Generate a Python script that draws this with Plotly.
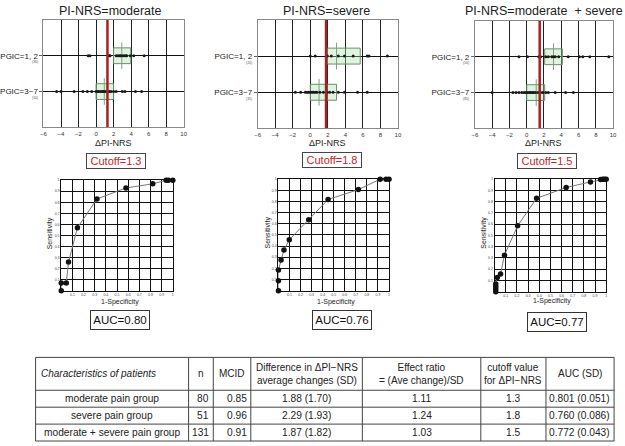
import plotly.graph_objects as go

W, H = 625, 446
FONT = "Arial, Liberation Sans, sans-serif"

# ---------------- data ----------------
panel_titles = ["PI-NRS=moderate", "PI-NRS=severe", "PI-NRS=moderate  + severe"]
group_labels = ["PGIC=1, 2", "PGIC=3~7"]
group_n = [["(30)", "(50)"], ["(20)", "(31)"], ["(50)", "(81)"]]
cutoffs = [1.3, 1.8, 1.5]
box_q1 = [[2.0, 0.0], [1.95, 0.0], [2.08, 0.0]]
box_q3 = [[3.96, 2.0], [5.7, 3.0], [4.13, 2.08]]
box_mean = [[2.94, 0.94], [3.0, 1.0], [3.1, 1.1]]
dots_p1_g12 = [-0.9, -0.7, 1.5, 1.6, 2.3, 2.5, 2.7, 2.8, 3.0, 3.2, 3.4, 3.5, 3.9, 4.3, 5.5]
dots_p1_g37 = [-4.5, -4.0, -2.5, -1.5, -1.0, -0.5, 0.0, 0.2, 0.3, 0.5, 0.7, 0.8, 1.0, 1.2,
               1.5, 1.7, 2.0, 2.3, 3.0, 3.3, 4.5, 5.2]
dots_p2_g12 = [0.0, 0.56, 1.95, 2.4, 3.2, 3.9, 4.9, 6.5, 6.7, 8.8]
dots_p2_g37 = [-1.7, -1.1, -0.56, -0.37, -0.2, 0.0, 0.2, 0.37, 0.56, 0.75, 1.1, 1.5, 1.9,
               2.2, 2.6, 3.2, 3.9, 5.4, 6.5]
dots_p3_g12 = [-0.9, 0.08, 1.4, 1.6, 2.2, 2.5, 2.9, 3.1, 3.3, 3.7, 4.8, 6.1, 6.5, 7.3, 9.5]
dots_p3_g37 = [-4.0, -1.6, -1.25, -0.9, -0.57, -0.3, -0.1, 0.1, 0.3, 0.45, 0.65, 0.8, 1.0,
               1.3, 1.6, 1.86, 2.2, 2.5, 3.3, 4.5, 5.4]
dots = [[dots_p1_g12, dots_p1_g37], [dots_p2_g12, dots_p2_g37], [dots_p3_g12, dots_p3_g37]]
x_ticks = [-6, -4, -2, 0, 2, 4, 6, 8, 10]

roc1_fpr = [0, 0, 0.045, 0.065, 0.145, 0.32, 0.58, 0.82, 0.94, 0.96, 1.0]
roc1_tpr = [0, 0.07, 0.07, 0.26, 0.57, 0.83, 0.93, 0.967, 1.0, 1.0, 1.0]
roc2_fpr = [0, 0, 0, 0.024, 0.05, 0.098, 0.274, 0.449, 0.723, 0.92, 0.973, 1.0]
roc2_tpr = [0, 0.09, 0.185, 0.275, 0.364, 0.457, 0.636, 0.818, 0.907, 1.0, 1.0, 1.0]
roc3_fpr = [0.01, 0.01, 0.01, 0.01, 0.024, 0.053, 0.088, 0.206, 0.376, 0.641, 0.859, 0.95, 0.97, 0.985, 1.0]
roc3_tpr = [0, 0.024, 0.047, 0.068, 0.127, 0.157, 0.325, 0.586, 0.83, 0.926, 0.976, 0.997, 1.0, 1.0, 1.0]
roc_fpr = [roc1_fpr, roc2_fpr, roc3_fpr]
roc_tpr = [roc1_tpr, roc2_tpr, roc3_tpr]
auc_labels = ["AUC=0.80", "AUC=0.76", "AUC=0.77"]
roc_ticks = [0.1, 0.2, 0.3, 0.4, 0.5, 0.6, 0.7, 0.8, 0.9, 1]
roc_ticktext = ["0.1", "0.2", "0.3", "0.4", "0.5", "0.6", "0.7", "0.8", "0.9", "1"]

table_header = ["<i>Characteristics of patients</i>", "n", "MCID",
                "Difference in ΔPI−NRS<br>average changes (SD)",
                "Effect ratio<br>= (Ave change)/SD",
                "cutoff value<br>for ΔPI−NRS", "AUC (SD)"]
tbl_group = ["moderate pain group", "severe pain group", "moderate + severe pain group"]
tbl_n = ["80", "51", "131"]
tbl_mcid = ["0.85", "0.96", "0.91"]
tbl_diff = ["1.88 (1.70)", "2.29 (1.93)", "1.87 (1.82)"]
tbl_effect = ["1.11", "1.24", "1.03"]
tbl_cutoff = ["1.3", "1.8", "1.5"]
tbl_auc = ["0.801 (0.051)", "0.760 (0.086)", "0.772 (0.043)"]

# ---------------- layout geometry (pixels) ----------------
top_dom = [(40, 182, 18, 126), (257, 399, 18, 127), (477, 617, 19, 127)]
roc_dom = [(58, 171, 179, 290), (278, 390, 178, 290), (497, 610, 178, 291)]
title_pos = [(108, 9), (327, 9), (547, 9)]
cut_pos = [(113, 159.5), (332, 158.5), (550, 159.5)]
auc_pos = [(117, 319), (342, 319), (560, 321)]
sens_pos = [(47, 232), (267, 232), (486, 232)]
spec_pos = [(117, 301), (336, 301), (555, 300.5)]
col_edges = [32, 187, 212, 250, 363, 483, 549, 618]
row_edges = [357, 390, 407, 424, 441]
head_align = ["left", "center", "center", "center", "center", "center", "center"]
cell_align = ["center", "right", "right", "center", "center", "center", "right"]


def px(x):
    return x / W


def py(y):
    return 1 - y / H


def note(text, x, y, size, color="#222", xanchor="center", **kw):
    return dict(text=text, x=px(x), y=py(y), xref="paper", yref="paper", showarrow=False,
                xanchor=xanchor, yanchor="middle", font=dict(size=size, color=color, family=FONT), **kw)


fig = go.Figure()
annotations = []
shapes = []
layout_axes = {}

for i in range(3):
    ax = i + 1
    xa = "x" if ax == 1 else f"x{ax}"
    ya = "y" if ax == 1 else f"y{ax}"
    l, r, t, b = top_dom[i]
    fig.add_trace(go.Bar(
        orientation="h", y=[1, 2],
        x=[box_q3[i][k] - box_q1[i][k] for k in range(2)],
        base=box_q1[i], width=0.44,
        marker=dict(color="rgba(170,225,170,0.38)", line=dict(color="#6a8f6a", width=1)),
        xaxis=xa, yaxis=ya, showlegend=False, hoverinfo="skip"))
    mx, my = [], []
    for k in range(2):
        mx += [box_mean[i][k], box_mean[i][k], None]
        my += [k + 1 - 0.37, k + 1 + 0.37, None]
    fig.add_trace(go.Scatter(x=mx, y=my, mode="lines",
                             line=dict(color="#7f9f7f", width=1),
                             xaxis=xa, yaxis=ya, showlegend=False, hoverinfo="skip"))
    for k in range(2):
        fig.add_trace(go.Scatter(x=dots[i][k], y=[k + 1] * len(dots[i][k]), mode="markers",
                                 marker=dict(color="#1a1a1a", size=3),
                                 xaxis=xa, yaxis=ya, showlegend=False, hoverinfo="skip"))
    fig.add_trace(go.Scatter(x=[cutoffs[i], cutoffs[i]], y=[0, 3], mode="lines",
                             line=dict(color="#a82024", width=2.5),
                             xaxis=xa, yaxis=ya, showlegend=False, hoverinfo="skip"))
    layout_axes["xaxis" if ax == 1 else f"xaxis{ax}"] = dict(
        domain=[px(l), px(r)], anchor=ya, range=[-6, 10], tickvals=x_ticks,
        tickfont=dict(size=6, color="#333"), showgrid=True, gridcolor="#222", gridwidth=1,
        zeroline=False, showline=True, linecolor="#888", mirror=True, ticks="")
    layout_axes["yaxis" if ax == 1 else f"yaxis{ax}"] = dict(
        domain=[py(b), py(t)], anchor=xa, range=[3, 0], tickvals=[1, 2], ticktext=group_labels,
        tickfont=dict(size=8, color="#222"), showgrid=True, gridcolor="#111", gridwidth=1,
        zeroline=False, showline=True, linecolor="#888", mirror=True,
        ticks="outside", ticklen=3, tickcolor="#666")
    annotations.append(note(panel_titles[i], title_pos[i][0], title_pos[i][1], 12.5))
    annotations.append(note("ΔPI-NRS", (l + r) / 2, 142, 9))
    for k in range(2):
        annotations.append(note(group_n[i][k], l - 4, t + (b - t) * (k + 1) / 3 + 6.5, 3.5,
                                color="#555", xanchor="right"))
    annotations.append(note(f"Cutoff={cutoffs[i]}", cut_pos[i][0], cut_pos[i][1], 11,
                            color="#c0262d", width=56, height=12, borderpad=1,
                            bordercolor="#444", borderwidth=1))

    # ROC
    ax2 = i + 4
    xa2, ya2 = f"x{ax2}", f"y{ax2}"
    l, r, t, b = roc_dom[i]
    fig.add_trace(go.Scatter(x=roc_fpr[i], y=roc_tpr[i], mode="lines+markers",
                             line=dict(color="#777", width=1),
                             marker=dict(color="#111", size=5.5), cliponaxis=False,
                             xaxis=xa2, yaxis=ya2, showlegend=False, hoverinfo="skip"))
    common = dict(range=[0, 1], tickvals=roc_ticks, ticktext=roc_ticktext,
                  tickfont=dict(size=3.5, color="#444"), showgrid=True, gridcolor="#111",
                  gridwidth=1, zeroline=False, showline=True, linecolor="#111", mirror=True,
                  ticks="")
    layout_axes[f"xaxis{ax2}"] = dict(domain=[px(l), px(r)], anchor=ya2, **common)
    layout_axes[f"yaxis{ax2}"] = dict(domain=[py(b), py(t)], anchor=xa2, **common)
    annotations.append(note("Sensitivity", sens_pos[i][0], sens_pos[i][1], 7, textangle=-90))
    annotations.append(note("1-Specificity", spec_pos[i][0], spec_pos[i][1], 7))
    annotations.append(note(auc_labels[i], auc_pos[i][0], auc_pos[i][1], 11.5, color="#111",
                            width=56, height=16, borderpad=1, bordercolor="#333", borderwidth=1))

# ---------------- table (drawn as layout lines + text) ----------------
line_style = dict(color="#444", width=1)
for xe in col_edges:
    shapes.append(dict(type="line", xref="paper", yref="paper", x0=px(xe), x1=px(xe),
                       y0=py(row_edges[0]), y1=py(row_edges[-1]), line=line_style))
for ye in row_edges:
    shapes.append(dict(type="line", xref="paper", yref="paper", x0=px(col_edges[0]),
                       x1=px(col_edges[-1]), y0=py(ye), y1=py(ye), line=line_style))


def cell_x(c, align):
    if align == "left":
        return col_edges[c] + 3, "left"
    if align == "right":
        return col_edges[c + 1] - 2, "right"
    return (col_edges[c] + col_edges[c + 1]) / 2, "center"


for c, txt in enumerate(table_header):
    xx, anc = cell_x(c, head_align[c])
    annotations.append(note(txt, xx, (row_edges[0] + row_edges[1]) / 2, 10, xanchor=anc))

columns = [tbl_group, tbl_n, tbl_mcid, tbl_diff, tbl_effect, tbl_cutoff, tbl_auc]
for c, col in enumerate(columns):
    for rr, txt in enumerate(col):
        xx, anc = cell_x(c, cell_align[c])
        annotations.append(note(txt, xx, (row_edges[rr + 1] + row_edges[rr + 2]) / 2, 10.2,
                                xanchor=anc))

fig.update_layout(width=W, height=H, autosize=False, margin=dict(l=0, r=0, t=0, b=0),
                  paper_bgcolor="white", plot_bgcolor="white", barmode="overlay",
                  font=dict(family=FONT), annotations=annotations, shapes=shapes, **layout_axes)

fig.write_html("out.html", config={"displayModeBar": False},
               post_script="document.body.style.margin='0';")
